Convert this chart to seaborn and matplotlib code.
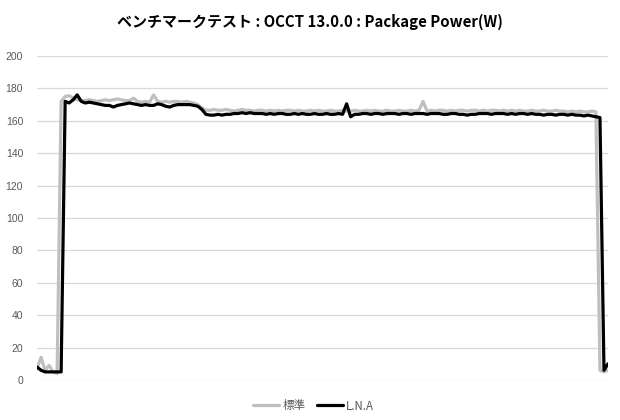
import matplotlib
matplotlib.use("Agg")
import matplotlib.pyplot as plt
import seaborn as sns
import pandas as pd

title = "ベンチマークテスト : OCCT 13.0.0 : Package Power(W)"
series_names = ["標準", "L.N.A"]
yticks = [0, 20, 40, 60, 80, 100, 120, 140, 160, 180, 200]

standard = [
    7, 14, 6, 9, 5, 4, 172, 175, 175.5, 174, 173, 172.5, 172.5, 173, 172.5, 172,
    172.5, 173, 172.5, 173, 173.5, 173, 172.5, 172.5, 174, 172, 171.5, 172, 171.5, 176,
    172, 171.5, 172, 171.5, 172, 172, 171.5, 172, 171.5, 171, 170, 168, 166.5,
    166.5, 167, 166.5, 166.5, 167, 166.5, 166, 166.5, 167, 166.5, 166.5, 166, 166.5,
    166.5, 166, 166.5, 166, 166.5, 166, 166.5, 166.5, 166, 166.5, 166, 166, 166.5,
    166, 166.5, 166, 166, 166.5, 166, 166, 166.5, 166, 166, 166.5, 166, 166, 166.5,
    166, 166.5, 166, 166, 166.5, 166, 166, 166.5, 166, 166, 166.5, 166, 166.5, 172,
    166, 166.5, 166, 166.5, 166.5, 166, 166.5, 166, 166.5, 166.5, 166, 166.5, 166.5,
    166, 166.5, 166, 166.5, 166.5, 166, 166.5, 166, 166.5, 166, 166.5, 166, 166,
    166.5, 166, 166, 166.5, 166, 166, 166.5, 166, 166, 165.5, 166, 165.5, 166, 165.5,
    165.5, 166, 165.5, 6, 5, 6,
]

lna = [
    8, 6, 5, 5, 5, 5, 5, 172, 171, 173, 176, 172, 171, 171.5, 171, 170.5, 170,
    169.5, 169.5, 168.5, 169.5, 170, 170.5, 171, 170.5, 170, 169.5, 170, 169.5, 169.5,
    170.5, 170, 169, 168.5, 169.5, 170, 170, 170, 170, 169.5, 169, 167, 164, 163.5,
    163.5, 164, 163.5, 164, 164, 164.5, 164.5, 165, 164.5, 165, 164.5, 164.5, 164.5,
    164, 164.5, 164, 164.5, 164.5, 164, 164, 164.5, 164, 164.5, 164, 164, 164.5, 164,
    164, 164.5, 164, 164, 164.5, 164, 170.5, 162.5, 164, 164, 164.5, 164.5, 164,
    164.5, 164.5, 164, 164.5, 164.5, 164.5, 164, 164.5, 164.5, 164, 164.5, 164.5,
    164.5, 164, 164.5, 164.5, 164.5, 164, 164, 164.5, 164.5, 164, 164, 163.5, 164,
    164, 164.5, 164.5, 164.5, 164, 164.5, 164.5, 164.5, 164, 164.5, 164, 164.5, 164.5,
    164, 164.5, 164, 164, 163.5, 164, 164, 163.5, 164, 164, 163.5, 164, 163.5, 163.5,
    163, 163.5, 163, 162.5, 162, 6, 10,
]

n = min(len(standard), len(lna))
df = pd.concat([
    pd.DataFrame({"t": range(n), "W": standard[:n], "series": series_names[0]}),
    pd.DataFrame({"t": range(n), "W": lna[:n], "series": series_names[1]}),
])

sns.set_theme(style="white")
plt.rcParams["font.family"] = ["Noto Sans CJK JP", "DejaVu Sans"]

fig = plt.figure(figsize=(6.2, 4.2), dpi=100)
ax = fig.add_axes([37 / 620, 1 - 380 / 420, (608 - 37) / 620, (380 - 56) / 420])

sns.lineplot(data=df, x="t", y="W", hue="series", hue_order=series_names,
             palette=["#bfbfbf", "#000000"], linewidth=2.3, ax=ax,
             estimator=None, sort=False)

ax.set_xlim(0, n - 1)
ax.set_ylim(0, 200)
ax.set_yticks(yticks)
ax.set_xticks([])
ax.set_xlabel("")
ax.set_ylabel("")
ax.grid(axis="y", color="#d9d9d9", linewidth=0.9)
ax.set_axisbelow(True)
for s in ax.spines.values():
    s.set_visible(False)
ax.tick_params(axis="y", length=0, pad=10, labelsize=7.5, labelcolor="#595959")
for lab in ax.get_yticklabels():
    lab.set_fontfamily(["Liberation Sans", "DejaVu Sans"])

fig.text(0.5, 1 - 22 / 420, title, ha="center", va="center",
         fontsize=10.8, fontweight="bold", color="#000000")

handles, labels = ax.get_legend_handles_labels()
leg = ax.legend(handles, labels, loc="center",
                bbox_to_anchor=((313.5 - 37) / 571, (380 - 406) / 324),
                ncol=2, frameon=False, fontsize=8.3, handlelength=2.3,
                handletextpad=0.25, columnspacing=1.0, labelcolor="#595959")
for t in leg.get_texts():
    t.set_fontfamily(["Noto Sans CJK JP", "DejaVu Sans"])

fig.savefig("out.png", dpi=100)
